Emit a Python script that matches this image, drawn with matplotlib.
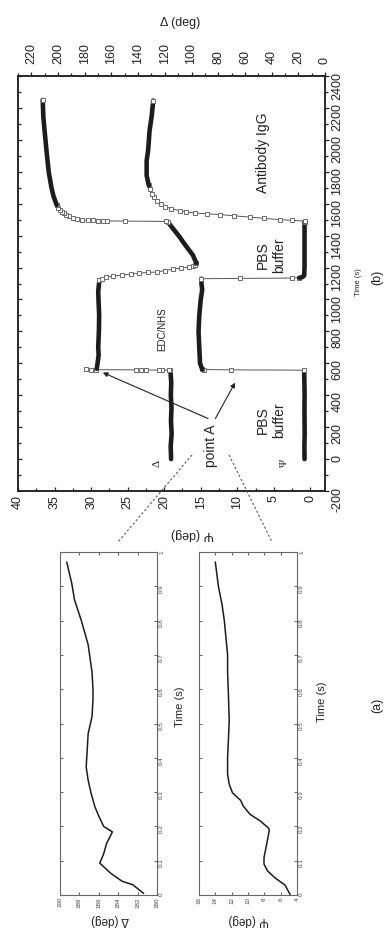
import matplotlib
matplotlib.use("Agg")
import matplotlib.pyplot as plt
from matplotlib.ticker import MultipleLocator, FuncFormatter
from matplotlib.lines import Line2D

# ---- data, main plot (b): time (s) vs Psi / Delta (deg) ----
# Delta
t_d_pbs1 = [0, 80, 160, 240, 320, 400, 480, 556]
d_pbs1 = [115.3, 115.6, 114.9, 115.4, 115.0, 115.5, 115.2, 115.8]
t_d_jump1 = [556, 557, 557, 558, 558, 559, 559, 560, 561, 562]
d_jump1 = [115.8, 116.6, 121.9, 124.1, 133.9, 137.6, 141.3, 171.3, 175.0, 178.7]
t_d_edc = [566, 600, 650, 700, 800, 900, 1000, 1050, 1100, 1121]
d_edc = [171.0, 170.4, 169.6, 169.9, 169.4, 169.2, 169.7, 169.9, 169.3, 169.0]
t_d_drop = [1121, 1131, 1140, 1147, 1153, 1159, 1165, 1169, 1172, 1181, 1190, 1197, 1203, 1210, 1218, 1228]
d_drop = [169.0, 167.2, 164.0, 158.5, 152.0, 145.5, 139.0, 132.5, 126.0, 120.0, 114.0, 107.8, 101.6, 99.2, 97.5, 96.4]
t_d_rise = [1228, 1278, 1320, 1362, 1393, 1445, 1487]
d_rise = [96.4, 99.0, 102.8, 106.5, 109.0, 114.0, 117.8]
t_d_jump2 = [1487, 1489, 1491, 1492, 1493, 1494, 1495, 1496, 1498]
d_jump2 = [117.8, 119.0, 150.0, 163.0, 166.5, 170.0, 174.0, 177.5, 182.0]
t_d_igg_fast = [1498, 1505, 1512, 1520, 1529, 1540, 1551, 1560, 1575, 1591]
d_igg_fast = [182.0, 185.5, 188.5, 191.5, 193.7, 195.8, 197.4, 198.5, 200.0, 201.0]
t_d_igg = [1591, 1650, 1704, 1800, 1936, 2050, 2143, 2250]
d_igg = [201.0, 203.5, 205.0, 207.0, 208.7, 210.0, 211.0, 211.5]

# Psi
t_p_pbs1 = [0, 80, 160, 240, 320, 400, 480, 557]
p_pbs1 = [0.80, 0.82, 0.78, 0.80, 0.81, 0.79, 0.82, 0.85]
t_p_jump1 = [557, 559, 561, 563]
p_jump1 = [0.85, 10.9, 14.5, 14.8]
t_p_edc = [563, 600, 700, 800, 900, 1000, 1060, 1100, 1130]
p_edc = [14.8, 15.1, 15.2, 15.3, 15.2, 15.0, 14.8, 14.9, 14.9]
t_p_jump2 = [1130, 1132, 1134, 1136]
p_jump2 = [14.9, 9.6, 2.5, 1.5]
t_p_pbs2 = [1136, 1140, 1150, 1200, 1300, 1400, 1487]
p_pbs2 = [1.5, 1.1, 0.85, 0.8, 0.8, 0.8, 0.8]
t_p_rise = [1487, 1491, 1496, 1500, 1508, 1516, 1524, 1532, 1537, 1541, 1549, 1557,
            1569, 1582, 1600, 1620, 1640, 1663, 1690, 1714]
p_rise = [0.8, 0.75, 2.5, 4.2, 6.3, 8.3, 10.4, 12.4, 14.2, 15.8, 17.0, 17.9,
          19.0, 19.9, 20.5, 21.0, 21.4, 21.7, 21.9, 22.1]
t_p_igg = [1714, 1776, 1870, 1933, 2058, 2152, 2246]
p_igg = [22.1, 22.4, 22.4, 22.2, 22.0, 21.7, 21.5]

# ---- data, zoom plots (a): first second after point A ----
t_sub_d = [0.005, 0.03, 0.04, 0.064, 0.093, 0.12, 0.15, 0.184, 0.2, 0.23, 0.257, 0.297,
           0.335, 0.373, 0.42, 0.47, 0.52, 0.57, 0.6, 0.65, 0.69, 0.73, 0.76, 0.8,
           0.86, 0.91, 0.97]
sub_delta = [181.4, 182.5, 183.6, 184.8, 185.9, 185.5, 185.2, 184.6, 185.5, 186.0, 186.4, 186.8,
             187.1, 187.3, 187.2, 187.1, 186.7, 186.6, 186.6, 186.7, 186.9, 187.1, 187.4, 187.8,
             188.5, 188.8, 189.3]
t_sub_p = [0.002, 0.029, 0.05, 0.07, 0.09, 0.109, 0.138, 0.187, 0.194, 0.216, 0.235, 0.26,
           0.276, 0.28, 0.298, 0.323, 0.352, 0.4, 0.45, 0.51, 0.586, 0.65, 0.70, 0.75,
           0.8, 0.85, 0.896, 0.97]
sub_psi = [4.86, 5.47, 6.7, 7.6, 8.04, 8.04, 7.8, 7.4, 7.45, 8.5, 9.75, 10.6,
           10.9, 11.1, 11.9, 12.3, 12.5, 12.5, 12.4, 12.3, 12.4, 12.5, 12.5, 12.7,
           12.9, 13.2, 13.6, 14.0]

plt.rcParams["font.family"] = ["Liberation Sans", "DejaVu Sans"]
plt.rcParams["axes.unicode_minus"] = False
INK = "#222222"
W, H = 385, 934


def fx(x):
    return x / W


def fy(y):
    return 1 - y / H


def dense(a, t, v):
    a.plot(v, t, color="#1c1c1c", lw=3.3, solid_capstyle="round", solid_joinstyle="round")


def sparse(a, t, v):
    a.plot(v, t, color="#555555", lw=0.7, marker="s", ms=2.6, mfc="white", mec="#6a6a6a", mew=0.7)


fig = plt.figure(figsize=(W / 100, H / 100), dpi=100)

# ---- main plot (figure is rotated: time runs upward) ----
ax = fig.add_axes([fx(18), fy(491), 307 / W, 415 / H])
ax2 = ax.twiny()
ax.set_xlim(40, -2)
ax.set_ylim(-200, 2400)
ax2.set_xlim(230, 0)

dense(ax, t_p_pbs1, p_pbs1)
sparse(ax, t_p_jump1, p_jump1)
dense(ax, t_p_edc, p_edc)
sparse(ax, t_p_jump2, p_jump2)
dense(ax, t_p_pbs2, p_pbs2)
sparse(ax, t_p_rise, p_rise)
dense(ax, t_p_igg, p_igg)
ax.plot(p_igg[-1], t_p_igg[-1], "s", ms=2.6, mfc="white", mec="#6a6a6a", mew=0.7)

dense(ax2, t_d_pbs1, d_pbs1)
sparse(ax2, t_d_jump1, d_jump1)
dense(ax2, t_d_edc, d_edc)
sparse(ax2, t_d_drop, d_drop)
dense(ax2, t_d_rise, d_rise)
sparse(ax2, t_d_jump2, d_jump2)
sparse(ax2, t_d_igg_fast, d_igg_fast)
dense(ax2, t_d_igg, d_igg)
ax2.plot(d_igg[-1], t_d_igg[-1], "s", ms=2.6, mfc="white", mec="#6a6a6a", mew=0.7)

ax.xaxis.set_major_locator(MultipleLocator(5))
ax.xaxis.set_minor_locator(MultipleLocator(2.5))
ax.yaxis.set_major_locator(MultipleLocator(200))
ax.yaxis.set_minor_locator(MultipleLocator(100))
ax2.xaxis.set_major_locator(MultipleLocator(20))
ax2.xaxis.set_minor_locator(MultipleLocator(10))

ax.tick_params(axis="x", which="both", direction="in", bottom=True, top=False,
               labelrotation=90, labelsize=9, pad=3, colors=INK)
ax.tick_params(axis="y", which="both", direction="out", left=False, right=True,
               labelleft=False, labelright=True, labelrotation=90, labelsize=9, pad=1.5, colors=INK)
ax2.tick_params(axis="x", which="both", direction="out", top=True, bottom=False,
                labelrotation=90, labelsize=9, pad=6, colors=INK)
ax2.yaxis.set_visible(True)
ax2.tick_params(axis="y", which="both", direction="in", left=True, right=False,
                labelleft=False, labelright=False, colors=INK)
for a in (ax, ax2):
    a.tick_params(which="major", length=3, width=0.9)
    a.tick_params(which="minor", length=2, width=0.9)
    for s in a.spines.values():
        s.set_linewidth(1.1)
        s.set_color(INK)

ax.annotate("", xy=(28.4, 542), xytext=(14.0, 254),
            arrowprops=dict(arrowstyle="-|>", color=INK, lw=0.8, mutation_scale=7, shrinkA=0, shrinkB=0))
ax.annotate("", xy=(10.3, 479), xytext=(13.0, 254),
            arrowprops=dict(arrowstyle="-|>", color=INK, lw=0.8, mutation_scale=7, shrinkA=0, shrinkB=0))
ax.text(13.6, 85, "point A", rotation=90, ha="center", va="center", fontsize=10, color=INK)
ax.text(5.4, 241, "PBS\nbuffer", rotation=90, ha="center", va="center", fontsize=10,
        linespacing=1.2, multialignment="center", color=INK)
ax.text(5.4, 1275, "PBS\nbuffer", rotation=90, ha="center", va="center", fontsize=10,
        linespacing=1.2, multialignment="center", color=INK)
ax.text(6.5, 1920, "Antibody IgG", rotation=90, ha="center", va="center", fontsize=10, color=INK)
ax.text(20.3, 815, "EDC/NHS", rotation=90, ha="center", va="center", fontsize=7, color=INK)
ax.text(21.0, -28, "Δ", rotation=90, ha="center", va="center", fontsize=8,
        family="Liberation Serif", color=INK)
ax.text(3.5, -22, "Ψ", rotation=90, ha="center", va="center", fontsize=8,
        family="Liberation Serif", color=INK)

fig.text(fx(180), fy(23), "Δ (deg)", ha="center", va="center", fontsize=9, color=INK)
fig.text(fx(192), fy(534), "Ψ (deg)", rotation=180, ha="center", va="center", fontsize=9, color=INK)
fig.text(fx(358), fy(282), "Time (s)", rotation=90, ha="center", va="center", fontsize=5.5, color=INK)
fig.text(fx(377), fy(277), "(b)", rotation=90, ha="center", va="center", fontsize=9, color=INK)

# ---- zoom plots (a) ----
fmt = FuncFormatter(lambda v, p: "{:g}".format(round(v, 2)))
axd = fig.add_axes([fx(60), fy(895), 97 / W, 343 / H])
axp = fig.add_axes([fx(199), fy(895), 98 / W, 343 / H])
axd.plot(sub_delta, t_sub_d, color="#1c1c1c", lw=1.1)
axp.plot(sub_psi, t_sub_p, color="#1c1c1c", lw=1.1)
axd.set_xlim(190, 180)
axp.set_xlim(16, 4)
for a in (axd, axp):
    a.set_ylim(0, 1)
    a.xaxis.set_major_locator(MultipleLocator(2))
    a.yaxis.set_major_locator(MultipleLocator(0.1))
    a.yaxis.set_major_formatter(fmt)
    a.tick_params(direction="in", length=2.5, width=0.6, top=True, left=True, right=True,
                  labelleft=False, labelright=True, labelrotation=90, labelsize=4.5,
                  pad=1.5, colors="#444444")
    for s in a.spines.values():
        s.set_linewidth(0.8)
        s.set_color("#666666")

fig.text(fx(180), fy(707), "Time (s)", rotation=90, ha="center", va="center", fontsize=8, color=INK)
fig.text(fx(322), fy(702), "Time (s)", rotation=90, ha="center", va="center", fontsize=8, color=INK)
fig.text(fx(110), fy(920), "Δ (deg)", rotation=180, ha="center", va="center", fontsize=8.5, color=INK)
fig.text(fx(249), fy(920), "Ψ (deg)", rotation=180, ha="center", va="center", fontsize=8.5, color=INK)
fig.text(fx(377), fy(705), "(a)", rotation=90, ha="center", va="center", fontsize=9, color=INK)

# dashed guide lines from point A to the zoom plots
for (x0, y0), (x1, y1) in [((192, 455), (118, 542)), ((229, 455), (272, 542))]:
    fig.add_artist(Line2D([fx(x0), fx(x1)], [fy(y0), fy(y1)], transform=fig.transFigure,
                          color="#555555", lw=0.8, ls=(0, (2, 2))))

fig.savefig("out.png", dpi=100)
